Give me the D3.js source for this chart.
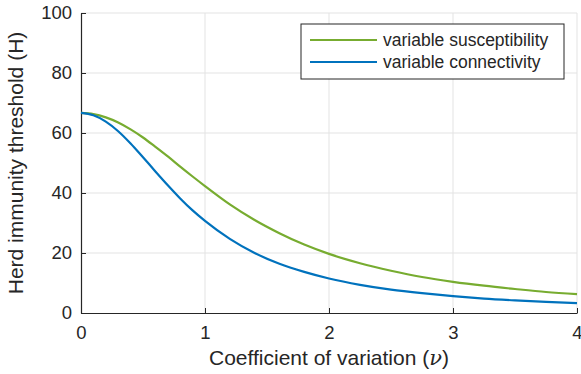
<!DOCTYPE html>
<html>
<head>
<meta charset="utf-8">
<script src="https://cdn.jsdelivr.net/npm/d3@7"></script>
<style>
body { margin: 0; background: #fff; }
text { font-family: "Liberation Sans", Arial, sans-serif; fill: #262626; }
</style>
</head>
<body>
<div id="chart"></div>
<script>
// values (H in %)
var nu = [0, 0.1, 0.2, 0.3, 0.4, 0.5, 0.6, 0.7, 0.8, 0.9, 1.0, 1.2, 1.4, 1.6, 1.8, 2.0, 2.25, 2.5, 2.75, 3.0, 3.25, 3.5, 3.75, 4.0];
var susceptibility = [66.7, 66.3, 65.2, 63.5, 61.2, 58.5, 55.4, 52.2, 48.8, 45.5, 42.3, 36.2, 31.0, 26.6, 22.8, 19.7, 16.6, 14.1, 12.0, 10.4, 9.1, 8.0, 7.0, 6.3];
var connectivity = [66.7, 65.9, 63.8, 60.6, 56.5, 51.9, 47.2, 42.6, 38.2, 34.2, 30.7, 24.7, 20.0, 16.4, 13.7, 11.5, 9.4, 7.8, 6.6, 5.6, 4.8, 4.2, 3.7, 3.3];
var xTicks = [0, 1, 2, 3, 4];
var yTicks = [0, 20, 40, 60, 80, 100];
var seriesNames = ["variable susceptibility", "variable connectivity"];
var seriesColors = ["#77AC30", "#0072BD"];

var W = 581, H = 374;
var margin = {top: 13, right: 4, bottom: 61, left: 81};
var width = W - margin.left - margin.right,
    height = H - margin.top - margin.bottom;

var svg = d3.select("#chart")
    .append("svg")
    .attr("width", W)
    .attr("height", H)
    .append("g")
    .attr("transform", "translate(" + margin.left + "," + margin.top + ")");

var x = d3.scaleLinear().domain([0, 4]).range([0, width]);
var y = d3.scaleLinear().domain([0, 100]).range([height, 0]);

// grid
svg.append("g").selectAll("line").data(xTicks.slice(1)).enter().append("line")
    .attr("x1", d => x(d)).attr("x2", d => x(d))
    .attr("y1", 0).attr("y2", height)
    .attr("stroke", "#e3e3e3").attr("stroke-width", 1);
svg.append("g").selectAll("line").data(yTicks.slice(1)).enter().append("line")
    .attr("x1", 0).attr("x2", width)
    .attr("y1", d => y(d)).attr("y2", d => y(d))
    .attr("stroke", "#e3e3e3").attr("stroke-width", 1);

// axes
var xAxis = svg.append("g")
    .attr("transform", "translate(0," + height + ")")
    .call(d3.axisBottom(x).tickValues(xTicks).tickFormat(d3.format("d"))
        .tickSizeInner(-5).tickSizeOuter(0).tickPadding(13));
var yAxis = svg.append("g")
    .call(d3.axisLeft(y).tickValues(yTicks).tickFormat(d3.format("d"))
        .tickSizeInner(-5).tickSizeOuter(0).tickPadding(9));
[xAxis, yAxis].forEach(function(a) {
    a.select(".domain").attr("stroke", "#262626").attr("stroke-width", 1.2);
    a.selectAll(".tick line").attr("stroke", "#262626");
    a.selectAll(".tick text").attr("font-size", "18.5px").attr("fill", "#262626")
        .attr("font-family", "Liberation Sans, Arial, sans-serif");
});

// lines
var line = d3.line().curve(d3.curveMonotoneX)
    .x(d => x(d[0])).y(d => y(d[1]));
[susceptibility, connectivity].forEach(function(s, i) {
    svg.append("path")
        .datum(nu.map((v, j) => [v, s[j]]))
        .attr("fill", "none")
        .attr("stroke", seriesColors[i])
        .attr("stroke-width", 2.2)
        .attr("d", line);
});

// legend
var lg = svg.append("g").attr("transform", "translate(" + (301 - margin.left) + "," + (24 - margin.top) + ")");
lg.append("rect").attr("width", 263).attr("height", 55)
    .attr("fill", "#fff").attr("stroke", "#262626").attr("stroke-width", 1);
seriesNames.forEach(function(n, i) {
    var yy = 16 + i * 22;
    lg.append("line").attr("x1", 9).attr("x2", 76).attr("y1", yy).attr("y2", yy)
        .attr("stroke", seriesColors[i]).attr("stroke-width", 2.2);
    lg.append("text").attr("x", 82).attr("y", yy + 6).attr("font-size", "17.5px").text(n);
});

// axis titles
svg.append("text")
    .attr("text-anchor", "middle")
    .attr("x", width / 2)
    .attr("y", height + 52)
    .attr("font-size", "21px")
    .html("Coefficient of variation (<tspan font-family='DejaVu Serif, serif' font-style='italic'>ν</tspan>)");

svg.append("text")
    .attr("text-anchor", "middle")
    .attr("transform", "rotate(-90)")
    .attr("x", -height / 2)
    .attr("y", -58)
    .attr("font-size", "21px")
    .text("Herd immunity threshold (H)");
</script>
</body>
</html>
